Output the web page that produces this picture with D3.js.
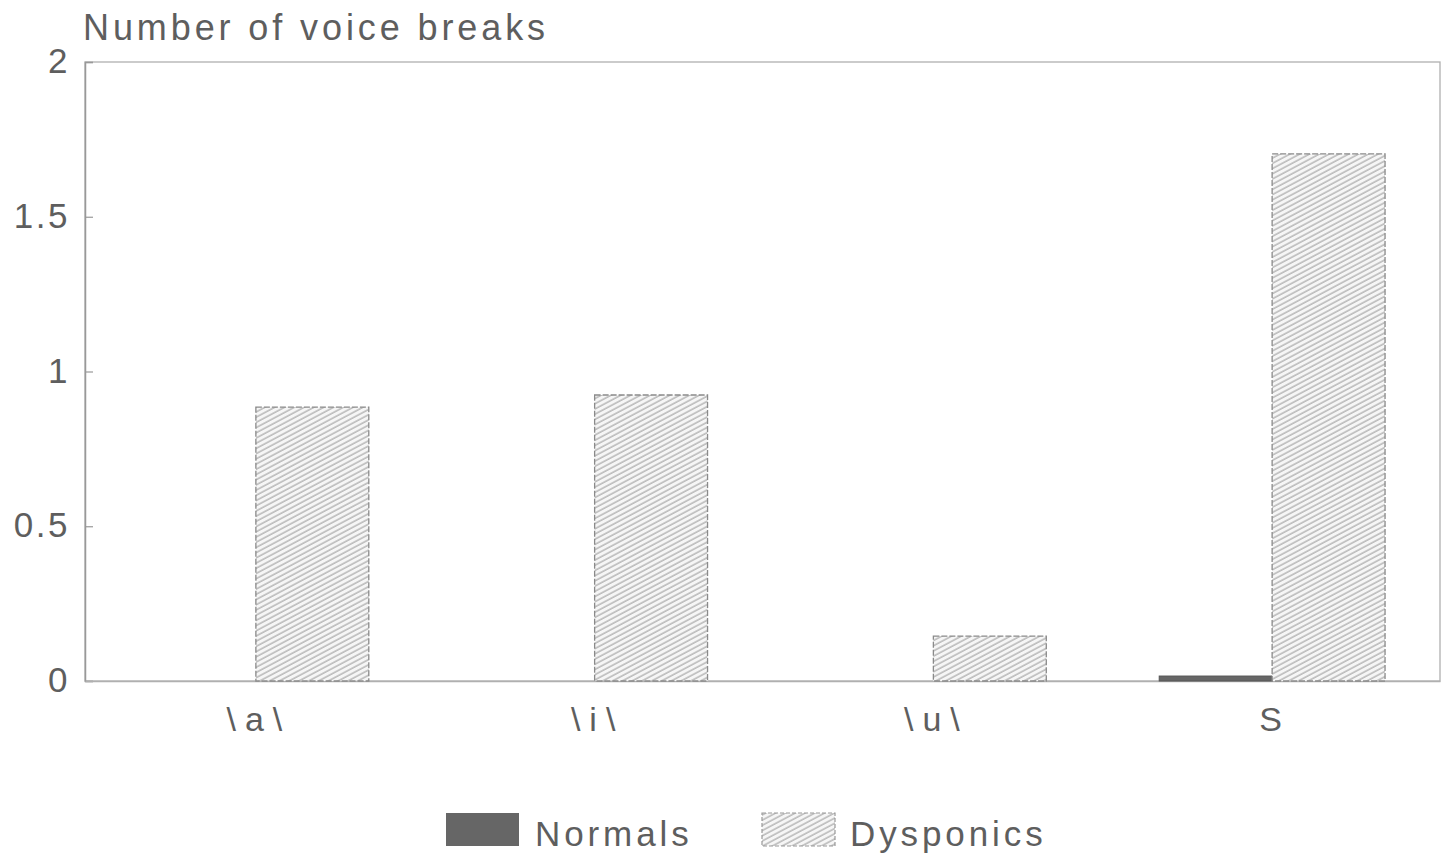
<!DOCTYPE html>
<html><head><meta charset="utf-8">
<script src="https://cdn.jsdelivr.net/npm/d3@7"></script>
<style>
body{margin:0;background:#fff;}
text{font-family:"Liberation Sans",Arial,Helvetica,sans-serif;fill:#5e5e5e;}
</style></head>
<body><svg id="c" width="1444" height="856"></svg>
<script>
const categories = ["\\a\\", "\\i\\", "\\u\\", "S"];
const seriesNames = ["Normals", "Dysponics"];
const normals = [0, 0, 0, 0.016];
const dysponics = [0.885, 0.924, 0.145, 1.703];
const yTicks = [0, 0.5, 1, 1.5, 2];
const yTickLabels = ["0", "0.5", "1", "1.5", "2"];
const title = "Number of voice breaks";

const svg = d3.select("#c");
const M = {l:85, r:1440, t:62, b:681};
const defs = svg.append("defs");
const pat = defs.append("pattern").attr("id","hatch").attr("patternUnits","userSpaceOnUse")
  .attr("width",10).attr("height",4.6).attr("patternTransform","rotate(-28)");
pat.append("rect").attr("width",10).attr("height",4.6).attr("fill","#f6f6f6");
pat.append("line").attr("x1",0).attr("x2",10).attr("y1",1).attr("y2",1)
  .attr("stroke","#a8a8a8").attr("stroke-width",1.2);

const x0 = d3.scaleBand().domain(categories).range([M.l, M.r]).padding(0);
const x1 = d3.scaleBand().domain(seriesNames).range([0, x0.bandwidth()]).paddingInner(0).paddingOuter(0.5);
const y = d3.scaleLinear().domain([0,2]).range([M.b, M.t]);

// frame
svg.append("rect").attr("x",M.l).attr("y",M.t).attr("width",M.r-M.l).attr("height",M.b-M.t)
  .attr("fill","none").attr("stroke","#b0b0b0").attr("stroke-width",1.3);

// y axis
const yAxis = d3.axisLeft(y).tickValues(yTicks).tickSize(-8).tickPadding(15)
  .tickFormat((d,i)=>yTickLabels[i]);
const gy = svg.append("g").attr("transform",`translate(${M.l},0)`).call(yAxis);
gy.select(".domain").attr("stroke","#999").attr("stroke-width",1.5);
gy.selectAll(".tick line").attr("stroke","#999").attr("stroke-width",1.2);
gy.selectAll(".tick text").style("font-size","35px").style("letter-spacing","2.5px").attr("fill","#5e5e5e")
  .attr("dy","0.3em");

// x axis labels
const xAxis = d3.axisBottom(x0).tickSize(0).tickPadding(26);
const gx = svg.append("g").attr("transform",`translate(0,${M.b})`).call(xAxis);
gx.select(".domain").attr("stroke","#b0b0b0").attr("stroke-width",1.3);
gx.selectAll(".tick text").style("font-size","34px").style("letter-spacing","9px").attr("dx","4.5px").attr("fill","#5e5e5e");

// bars
const data = categories.map((c,i)=>({c, vals:[{s:"Normals",v:normals[i]},{s:"Dysponics",v:dysponics[i]}]}));
const g = svg.append("g");
data.forEach(d=>{
  d.vals.forEach(b=>{
    if (b.v<=0) return;
    const r = g.append("rect")
      .attr("x", x0(d.c)+x1(b.s)+1.5).attr("width", x1.bandwidth())
      .attr("y", y(b.v)).attr("height", y(0)-y(b.v));
    if (b.s==="Normals") r.attr("fill","#666").attr("stroke","#555").attr("stroke-width",1);
    else r.attr("fill","url(#hatch)").attr("stroke","#8a8a8a").attr("stroke-width",1.3).attr("stroke-dasharray","6,2");
  });
});

// title
svg.append("text").attr("x",83).attr("y",40).text(title)
  .style("font-size","36px").style("letter-spacing","3.9px");

// legend
const leg = [{s:"Normals", x:446, tx:535},{s:"Dysponics", x:762, tx:850}];
leg.forEach(l=>{
  const r = svg.append("rect").attr("x",l.x).attr("y",813).attr("width",73).attr("height",33);
  if (l.s==="Normals") r.attr("fill","#666");
  else r.attr("fill","url(#hatch)").attr("stroke","#999").attr("stroke-width",1.2).attr("stroke-dasharray","4,2");
  svg.append("text").attr("x",l.tx).attr("y",846).text(l.s)
    .style("font-size","35px").style("letter-spacing","3.9px");
});
</script></body></html>
